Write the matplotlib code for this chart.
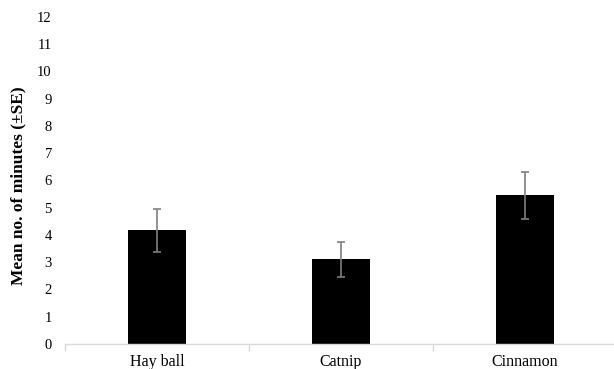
import matplotlib.pyplot as plt
import numpy as np

# --- Data ---
categories = ['Hay ball', 'Catnip', 'Cinnamon']
means = [4.17, 3.11, 5.45]
se = [0.78, 0.65, 0.85]
y_ticks = list(range(0, 13))

plt.rcParams['font.family'] = ['Liberation Serif', 'DejaVu Serif']

fig = plt.figure(figsize=(6.14, 3.69), dpi=100)
ax = fig.add_axes([65 / 614, 1 - 344 / 369, 552 / 614, (344 - 17) / 369])

x = np.arange(len(categories))
ax.bar(x, means, width=0.315, color='black', zorder=2)
ax.errorbar(x, means, yerr=se, fmt='none', ecolor='#7f7f7f',
            elinewidth=1.2, capsize=3, capthick=1.2, zorder=3)

ax.set_xlim(-0.5, len(categories) - 0.5)
ax.set_ylim(0, 12)
ax.set_yticks(y_ticks)
ax.tick_params(axis='y', length=0, pad=9.5, labelsize=10.5)

ax.set_xticks(x)
ax.set_xticklabels(categories, fontsize=11.5)
ax.set_xticks(np.arange(-0.5, len(categories)), minor=True)
ax.tick_params(axis='x', which='major', length=0, pad=7)
ax.tick_params(axis='x', which='minor', length=5, color='#d9d9d9', width=1)

for side in ['top', 'right', 'left']:
    ax.spines[side].set_visible(False)
ax.spines['bottom'].set_color('#d9d9d9')
ax.spines['bottom'].set_linewidth(1)

# y label centred at about x=17, y=186 px
ax.set_ylabel('Mean no. of minutes (±SE)', fontsize=12.5, fontweight='bold', va='center')
ax.yaxis.set_label_coords(-(65 - 18) / 552, (344 - 186) / 327)

fig.savefig('out.png', dpi=100)
